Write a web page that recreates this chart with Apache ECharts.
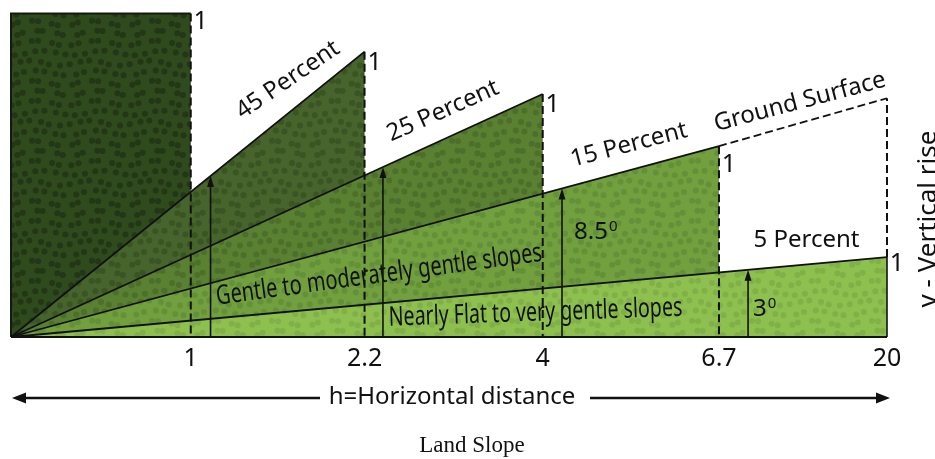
<!DOCTYPE html>
<html><head><meta charset="utf-8">
<script src="https://cdn.jsdelivr.net/npm/echarts@6/dist/echarts.min.js"></script>
<style>html,body{margin:0;padding:0;background:#fff}#chart{width:935px;height:459px}</style>
</head><body><div id="chart"></div>
<script>
// ---- data (schematic units) ----
const runLabels = ['1', '2.2', '4', '6.7', '20'];            // horizontal distance for a rise of 1
const slopeNames = ['45 Percent', '25 Percent', '15 Percent', '5 Percent'];
const runAt = [1.026, 2.018, 3.035, 4.041, 5.0];             // slot of each vertical on the x axis
const riseAt = [10, 8.82, 7.51, 5.90, 2.47];                 // drawn height of each vertical
const groundEnd = 7.38;                                      // ground surface continuation at last slot
const arrowAt = [1.139, 2.123, 3.145, 4.207];                // vertical arrows
const angleLabels = ['8.5', '3'];
const riseLabel = '1';
const zoneNames = ['Gentle to moderately gentle slopes', 'Nearly Flat to very gentle slopes'];

// ---- styles ----
const FONT = "'Noto Sans', 'Open Sans', sans-serif";
const layerBase = ['#2f4a1d', '#46642b', '#5a8132', '#72a03e', '#8ec04f'];
const layerDot  = ['#233716', '#3a5424', '#4d6f2b', '#65903a', '#81b049'];

function makePattern(base, dot) {
  const S = 60, c = document.createElement('canvas');
  c.width = S; c.height = S;
  const g = c.getContext('2d');
  g.fillStyle = base; g.fillRect(0, 0, S, S);
  g.fillStyle = dot;
  for (let r = 0; r < 6; r++) for (let q = 0; q < 6; q++) {
    const jx = Math.sin((r * 7 + q * 13) * 1.7) * 2.4;
    const jy = Math.cos((r * 11 + q * 5) * 2.3) * 2.4;
    const x = q * 10 + (r % 2) * 5 + jx, y = r * 10 + 3 + jy;
    for (const dx of [-S, 0, S]) for (const dy of [-S, 0, S]) {
      g.beginPath(); g.arc(x + dx, y + dy, 3.0, 0, Math.PI * 2); g.fill();
    }
  }
  return { image: c, repeat: 'repeat' };
}
const patterns = layerBase.map((b, i) => makePattern(b, layerDot[i]));

const chart = echarts.init(document.getElementById('chart'));

function txt(text, x, y, deg, size, o) {
  o = o || {};
  return {
    type: 'text', x, y, rotation: deg * Math.PI / 180, scaleX: o.sx || 1, z: 100,
    style: { text, fontSize: size, fontFamily: o.font || FONT, fill: '#111',
      align: o.align || 'center', verticalAlign: o.va || 'middle', rich: o.rich }
  };
}
const supRich = { a: { fontSize: 24, fontFamily: FONT, fill: '#111' },
                  b: { fontSize: 15, fontFamily: FONT, fill: '#111', verticalAlign: 'top', padding: [0, 0, 10, 1] } };
const oneDy = [8, 11, 11, 19, 7];

const option = {
  animation: false,
  grid: { left: 11, right: 48, top: 13.5, bottom: 122 },
  xAxis: {
    type: 'value', min: 0, max: 5,
    axisLine: { show: false }, axisTick: { show: false }, splitLine: { show: false },
    axisLabel: {
      customValues: runAt, margin: 9, fontSize: 25, fontFamily: FONT, color: '#111',
      formatter: v => {
        let best = 0;
        runAt.forEach((r, i) => { if (Math.abs(r - v) < Math.abs(runAt[best] - v)) best = i; });
        return runLabels[best];
      }
    }
  },
  yAxis: { type: 'value', min: 0, max: 10, show: false },
  series: [
    {
      type: 'custom', name: 'zones', z: 1, clip: false,
      data: runAt.map((r, i) => [r, riseAt[i]]),
      renderItem: (params, api) => {
        const i = params.dataIndex;
        const o = api.coord([0, 0]);
        const top = api.coord([runAt[i], riseAt[i]]);
        const foot = api.coord([runAt[i], 0]);
        const pts = i === 0 ? [o, [o[0], top[1]], top, foot] : [o, top, foot];
        return { type: 'polygon', shape: { points: pts }, style: { fill: patterns[i], stroke: null } };
      }
    },
    {
      type: 'custom', name: 'outlines', z: 2, clip: false,
      data: runAt.map((r, i) => [r, riseAt[i]]),
      renderItem: (params, api) => {
        const i = params.dataIndex, last = i === runAt.length - 1;
        const o = api.coord([0, 0]);
        const top = api.coord([runAt[i], riseAt[i]]);
        const foot = api.coord([runAt[i], 0]);
        const ch = [];
        if (i === 0) {
          ch.push({ type: 'polyline', shape: { points: [o, [o[0], top[1]], top] }, style: { stroke: '#151a10', lineWidth: 2, fill: null } });
        } else {
          ch.push({ type: 'line', shape: { x1: o[0], y1: o[1], x2: top[0], y2: top[1] }, style: { stroke: '#111', lineWidth: 1.8 } });
        }
        ch.push({ type: 'line', shape: { x1: top[0], y1: top[1], x2: foot[0], y2: foot[1] },
          style: { stroke: '#111', lineWidth: last ? 1.6 : 2, lineDash: last ? null : [8, 4] } });
        if (last) {
          ch.push({ type: 'line', shape: { x1: o[0], y1: o[1], x2: foot[0], y2: foot[1] }, style: { stroke: '#111', lineWidth: 2 } });
        }
        ch.push({ type: 'text', x: top[0] + 10, y: top[1] + oneDy[i],
          style: { text: riseLabel, fontSize: 25, fontFamily: FONT, fill: '#111', align: 'center', verticalAlign: 'middle' } });
        return { type: 'group', children: ch };
      }
    },
    {
      type: 'line', name: 'Ground Surface', z: 3, symbol: 'none', silent: true,
      lineStyle: { color: '#111', width: 1.8, type: [8, 4] },
      data: [[runAt[3], riseAt[3]], [runAt[4], groundEnd]]
    },
    {
      type: 'line', name: 'rise', z: 3, symbol: 'none', silent: true,
      lineStyle: { color: '#111', width: 2, type: [8, 4] },
      data: [[runAt[4], riseAt[4]], [runAt[4], groundEnd]]
    },
    {
      type: 'custom', name: 'arrows', z: 4, clip: false,
      data: arrowAt.map((x, k) => [x, riseAt[k + 1] * x / runAt[k + 1]]),
      renderItem: (params, api) => {
        const b = api.coord([api.value(0), 0]);
        const t = api.coord([api.value(0), api.value(1)]);
        return { type: 'group', children: [
          { type: 'line', shape: { x1: b[0], y1: b[1], x2: t[0], y2: t[1] + 8 }, style: { stroke: '#111', lineWidth: 1.6 } },
          { type: 'polygon', shape: { points: [[t[0], t[1]], [t[0] - 3.5, t[1] + 11], [t[0] + 3.5, t[1] + 11]] }, style: { fill: '#111' } }
        ] };
      }
    }
  ],
  graphic: [
    txt(slopeNames[0], 288, 80, 34.5, 24),
    txt(slopeNames[1], 443, 111, 24, 24),
    txt(slopeNames[2], 629, 145, 14.6, 24),
    txt('Ground Surface', 800, 102, 14.8, 24),
    txt(slopeNames[3], 806.5, 240, 0, 24),
    txt(zoneNames[0], 379, 275, 7.7, 27, { sx: 0.74 }),
    txt(zoneNames[1], 535.5, 313, 1.96, 27, { sx: 0.725 }),
    txt('{a|' + angleLabels[0] + '}{b|0}', 574, 232, 0, 24, { align: 'left', rich: supRich }),
    txt('{a|' + angleLabels[1] + '}{b|0}', 753, 309, 0, 24, { align: 'left', rich: supRich }),
    txt('h=Horizontal distance', 452, 397, 0, 24),
    txt('v - Vertical rise', 942, 219, 90, 26, { va: 'bottom' }),
    txt('Land Slope', 472, 446, 0, 23, { font: "'Liberation Serif', serif" }),
    { type: 'line', shape: { x1: 22, y1: 398, x2: 320, y2: 398 }, style: { stroke: '#111', lineWidth: 2.4 } },
    { type: 'line', shape: { x1: 590, y1: 398, x2: 880, y2: 398 }, style: { stroke: '#111', lineWidth: 2.4 } },
    { type: 'polygon', shape: { points: [[12, 398], [26, 392.5], [26, 403.5]] }, style: { fill: '#111' } },
    { type: 'polygon', shape: { points: [[890, 398], [876, 392.5], [876, 403.5]] }, style: { fill: '#111' } }
  ]
};
chart.setOption(option);
</script>
</body></html>
